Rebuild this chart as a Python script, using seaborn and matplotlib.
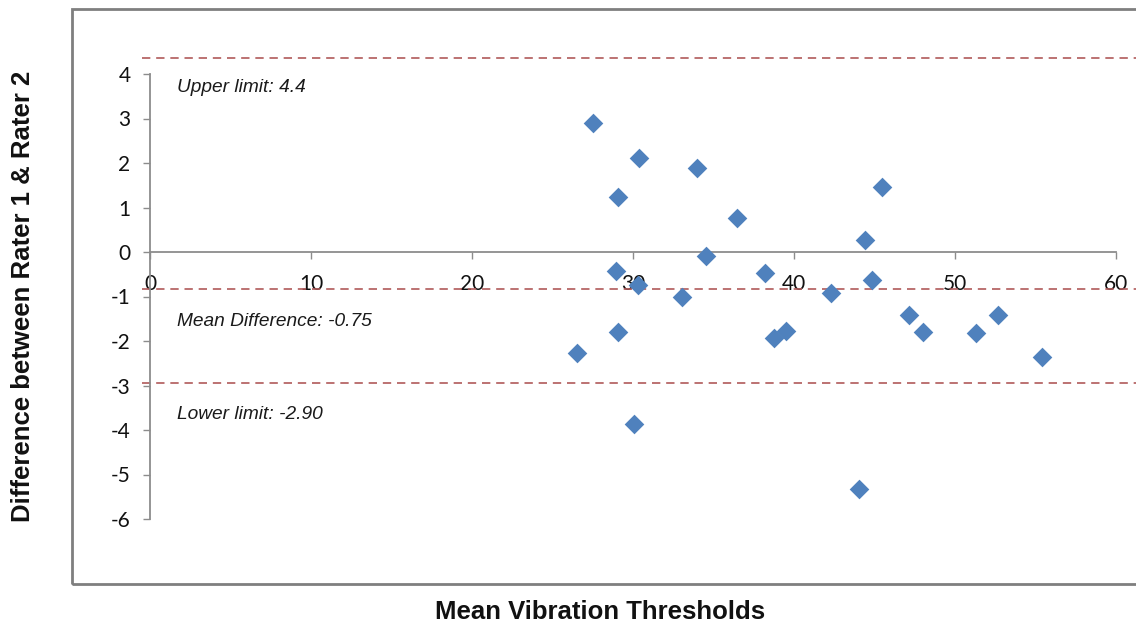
import matplotlib
matplotlib.use('Agg')
import matplotlib.pyplot as plt
import seaborn as sns
import pandas as pd
from matplotlib.patches import Rectangle

# Bland-Altman data
mean_vals = [27.50, 30.39, 33.96, 29.09, 36.44, 45.45, 44.41, 34.53, 28.93, 38.20,
             30.31, 44.83, 33.06, 42.28, 47.14, 48.03, 29.05, 39.48, 38.76, 51.29,
             52.69, 26.50, 55.42, 30.08, 44.06]
diff_vals = [2.91, 2.11, 1.88, 1.24, 0.76, 1.47, 0.27, -0.08, -0.42, -0.48,
             -0.74, -0.63, -1.02, -0.93, -1.42, -1.79, -1.79, -1.77, -1.94, -1.83,
             -1.42, -2.26, -2.35, -3.87, -5.33]

# reference lines (as drawn) and their labels
line_vals = [4.35, -0.83, -2.94]
line_labels = ['Upper limit: 4.4', 'Mean Difference: -0.75', 'Lower limit: -2.90']
label_y = [3.69, -1.57, -3.66]

x_ticks = [0, 10, 20, 30, 40, 50, 60]
y_ticks = [-6, -5, -4, -3, -2, -1, 0, 1, 2, 3, 4]

df = pd.DataFrame({'mean': mean_vals, 'diff': diff_vals})

sns.set_style('white')
plt.rcParams['font.family'] = ['Liberation Sans', 'DejaVu Sans']

fig = plt.figure(figsize=(11.36, 6.25), dpi=100)
ax = fig.add_axes([0.125, 0.134, 0.8787, 0.7832])

sns.scatterplot(data=df, x='mean', y='diff', marker='D', s=100, color='#4F81BD',
                edgecolor='#4F81BD', linewidth=0, ax=ax, zorder=3)

for v in line_vals:
    ax.axhline(v, color='#B05A5A', linestyle=(0, (5, 3.5)), linewidth=1.2, zorder=1)

for t, yy in zip(line_labels, label_y):
    ax.text(1.68, yy, t, fontsize=13.8, style='italic', color='#1a1a1a',
            va='center', ha='left')

ax.set_xlim(-0.5, 61.5)
ax.set_ylim(-6.5, 4.5)

# Excel-style crossing axes
for side in ['top', 'right']:
    ax.spines[side].set_visible(False)
ax.spines['left'].set_position(('data', 0))
ax.spines['bottom'].set_position(('data', 0))
ax.spines['left'].set_bounds(-6, 4)
ax.spines['bottom'].set_bounds(0, 60)
for side in ['left', 'bottom']:
    ax.spines[side].set_color('#8c8c8c')
    ax.spines[side].set_linewidth(1.3)

ax.set_xticks(x_ticks)
ax.set_yticks(y_ticks)
ax.set_xticklabels([str(t) for t in x_ticks], family='Lato', fontsize=15)
ax.set_yticklabels([str(t) for t in y_ticks], family='Lato', fontsize=15)
ax.tick_params(axis='x', bottom=True, direction='out', length=5, width=1,
               color='#8c8c8c', labelcolor='#111111', pad=11)
ax.tick_params(axis='y', left=True, direction='out', length=5, width=1,
               color='#8c8c8c', labelcolor='#111111', pad=9)
ax.set_xlabel('')
ax.set_ylabel('')

fig.text(600 / 1136, 1 - 612 / 625, 'Mean Vibration Thresholds', fontsize=18.5,
         fontweight='bold', ha='center', va='center', color='#111111')
fig.text(23 / 1136, 1 - 296 / 625, 'Difference between Rater 1 & Rater 2', fontsize=18.5,
         fontweight='bold', ha='center', va='center', rotation=90, color='#111111')

# outer chart-area frame
fig.patches.append(Rectangle((72 / 1136, 1 - 584 / 625), 1.02, 575 / 625,
                             transform=fig.transFigure, fill=False,
                             edgecolor='#7f7f7f', linewidth=2))

fig.savefig('out.png', dpi=100)
